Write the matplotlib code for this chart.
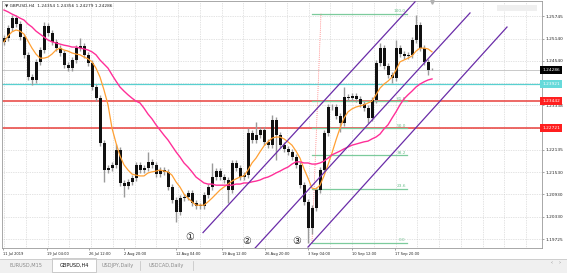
import numpy as np
import matplotlib
matplotlib.use("Agg")
import matplotlib.pyplot as plt
from matplotlib.patches import Rectangle

plt.rcParams['font.family'] = ['DejaVu Sans']

# GBPUSD H4 (each candle here ~ 4 chart bars)
first_open = 1.2505
closes = [1.2515, 1.2542, 1.2569, 1.2553, 1.2518, 1.2470, 1.2410, 1.2402, 1.2451, 1.2483,
          1.2548, 1.2529, 1.2505, 1.2488, 1.2475, 1.2442, 1.2434, 1.2456, 1.2488, 1.2494,
          1.2470, 1.2448, 1.2383, 1.2353, 1.2232, 1.2159, 1.2164, 1.2173, 1.2213, 1.2124,
          1.2116, 1.2127, 1.2137, 1.2173, 1.2159, 1.2164, 1.2181, 1.2173, 1.2148, 1.2159,
          1.2154, 1.2113, 1.2078, 1.2046, 1.2083, 1.2086, 1.2097, 1.2070, 1.2062, 1.2062,
          1.2091, 1.2113, 1.2140, 1.2156, 1.2140, 1.2132, 1.2105, 1.2178, 1.2164, 1.2140,
          1.2145, 1.2259, 1.2240, 1.2253, 1.2267, 1.2235, 1.2226, 1.2294, 1.2253, 1.2226,
          1.2216, 1.2208, 1.2194, 1.2173, 1.2118, 1.2073, 1.2002, 1.2056, 1.2105, 1.2159,
          1.2259, 1.2329, 1.2329, 1.2305, 1.2286, 1.2356, 1.2353, 1.2359, 1.2351, 1.2337,
          1.2326, 1.2299, 1.2348, 1.2448, 1.2488, 1.2440, 1.2416, 1.2407, 1.2488, 1.2472,
          1.2467, 1.2470, 1.2510, 1.2551, 1.2488, 1.2451, 1.2429, 1.24286]
highs = [1.2523, 1.2550, 1.2578, 1.2577, 1.2561, 1.2526, 1.2478, 1.2418, 1.2459, 1.2491,
         1.2559, 1.2556, 1.2537, 1.2513, 1.2496, 1.2483, 1.2450, 1.2464, 1.2496, 1.2515,
         1.2502, 1.2478, 1.2456, 1.2391, 1.2361, 1.2240, 1.2172, 1.2181, 1.2228, 1.2221,
         1.2132, 1.2135, 1.2145, 1.2181, 1.2181, 1.2172, 1.2208, 1.2189, 1.2181, 1.2167,
         1.2167, 1.2162, 1.2121, 1.2086, 1.2091, 1.2094, 1.2105, 1.2105, 1.2078, 1.2070,
         1.2099, 1.2121, 1.2178, 1.2164, 1.2164, 1.2148, 1.2140, 1.2186, 1.2186, 1.2172,
         1.2153, 1.2272, 1.2267, 1.2289, 1.2275, 1.2275, 1.2243, 1.2307, 1.2302, 1.2261,
         1.2234, 1.2224, 1.2216, 1.2202, 1.2181, 1.2126, 1.2081, 1.2064, 1.2113, 1.2167,
         1.2267, 1.2337, 1.2337, 1.2337, 1.2313, 1.2383, 1.2364, 1.2367, 1.2367, 1.2359,
         1.2345, 1.2334, 1.2356, 1.2456, 1.2502, 1.2496, 1.2448, 1.2424, 1.2510, 1.2496,
         1.2480, 1.2478, 1.2518, 1.2578, 1.2559, 1.2496, 1.2459, 1.24356]
lows = [1.2497, 1.2507, 1.2534, 1.2545, 1.2510, 1.2462, 1.2402, 1.2388, 1.2394, 1.2443,
        1.2475, 1.2521, 1.2497, 1.2480, 1.2467, 1.2434, 1.2426, 1.2426, 1.2448, 1.2480,
        1.2462, 1.2440, 1.2375, 1.2345, 1.2224, 1.2127, 1.2151, 1.2156, 1.2165, 1.2116,
        1.2086, 1.2108, 1.2119, 1.2129, 1.2151, 1.2151, 1.2156, 1.2165, 1.2140, 1.2140,
        1.2146, 1.2105, 1.2070, 1.2019, 1.2038, 1.2075, 1.2078, 1.2062, 1.2054, 1.2054,
        1.2054, 1.2083, 1.2105, 1.2132, 1.2132, 1.2124, 1.2070, 1.2097, 1.2156, 1.2132,
        1.2132, 1.2137, 1.2232, 1.2232, 1.2245, 1.2227, 1.2218, 1.2218, 1.2186, 1.2218,
        1.2208, 1.2200, 1.2186, 1.2165, 1.2110, 1.2065, 1.1962, 1.1985, 1.2048, 1.2097,
        1.2151, 1.2251, 1.2321, 1.2297, 1.2262, 1.2278, 1.2345, 1.2345, 1.2343, 1.2329,
        1.2318, 1.2286, 1.2291, 1.2340, 1.2440, 1.2432, 1.2408, 1.2394, 1.2399, 1.2464,
        1.2459, 1.2459, 1.2462, 1.2502, 1.2480, 1.2443, 1.2416, 1.24279]

ma_fast = [1.2505, 1.2521, 1.2532, 1.2537, 1.2534, 1.2526, 1.2507, 1.2488, 1.2472, 1.2461,
           1.2461, 1.2464, 1.2472, 1.2483, 1.2488, 1.2483, 1.2480, 1.2475, 1.2472, 1.2470,
           1.2464, 1.2459, 1.2451, 1.2434, 1.2410, 1.2375, 1.2335, 1.2272, 1.2232, 1.2197,
           1.2173, 1.2159, 1.2148, 1.2145, 1.2143, 1.2143, 1.2151, 1.2154, 1.2156, 1.2159,
           1.2156, 1.2154, 1.2145, 1.2127, 1.2113, 1.2094, 1.2083, 1.2073, 1.2064, 1.2064,
           1.2064, 1.2073, 1.2083, 1.2094, 1.2105, 1.2113, 1.2121, 1.2129, 1.2135, 1.2140,
           1.2143, 1.2159, 1.2178, 1.2191, 1.2208, 1.2224, 1.2235, 1.2245, 1.2248, 1.2248,
           1.2243, 1.2235, 1.2226, 1.2210, 1.2191, 1.2162, 1.2137, 1.2110, 1.2108, 1.2118,
           1.2143, 1.2173, 1.2205, 1.2240, 1.2272, 1.2299, 1.2316, 1.2324, 1.2329, 1.2332,
           1.2335, 1.2340, 1.2345, 1.2362, 1.2380, 1.2391, 1.2399, 1.2410, 1.2429, 1.2451,
           1.2456, 1.2461, 1.2467, 1.2480, 1.2488, 1.2488, 1.2486, 1.2478]
ma_slow = [1.2591, 1.2586, 1.2580, 1.2575, 1.2569, 1.2564, 1.2553, 1.2545, 1.2534, 1.2526,
           1.2518, 1.2510, 1.2505, 1.2502, 1.2499, 1.2496, 1.2494, 1.2491, 1.2491, 1.2488,
           1.2486, 1.2483, 1.2478, 1.2470, 1.2456, 1.2445, 1.2434, 1.2416, 1.2399, 1.2383,
           1.2372, 1.2362, 1.2353, 1.2345, 1.2340, 1.2326, 1.2310, 1.2297, 1.2281, 1.2267,
           1.2253, 1.2240, 1.2224, 1.2208, 1.2194, 1.2178, 1.2167, 1.2154, 1.2140, 1.2132,
           1.2124, 1.2121, 1.2121, 1.2118, 1.2118, 1.2118, 1.2118, 1.2118, 1.2121, 1.2121,
           1.2124, 1.2124, 1.2127, 1.2129, 1.2132, 1.2137, 1.2140, 1.2145, 1.2151, 1.2156,
           1.2162, 1.2167, 1.2175, 1.2181, 1.2181, 1.2178, 1.2178, 1.2175, 1.2175, 1.2178,
           1.2183, 1.2191, 1.2200, 1.2205, 1.2210, 1.2216, 1.2221, 1.2226, 1.2229, 1.2232,
           1.2235, 1.2237, 1.2243, 1.2248, 1.2256, 1.2270, 1.2281, 1.2299, 1.2316, 1.2335,
           1.2351, 1.2362, 1.2372, 1.2383, 1.2391, 1.2397, 1.2402, 1.2405]

# price scale
price_ticks = [1.25745, 1.25140, 1.24540, 1.23939, 1.23338, 1.22736,
               1.22135, 1.21530, 1.20930, 1.20330, 1.19725]
# time scale (candle index)
time_ticks = [-0.25, 10.75, 21.25, 30.0, 43.0, 54.5, 65.25, 76.0, 87.0, 97.75]
time_labels = ['11 Jul 2019', '19 Jul 04:00', '26 Jul 12:00', '2 Aug 20:00', '12 Aug 04:00',
               '19 Aug 12:00', '26 Aug 20:00', '3 Sep 04:00', '10 Sep 12:00', '17 Sep 20:00']

# horizontal levels
bid = 1.24286
cyan_level = 1.23921
red_levels = [1.23442, 1.22721]

# fibonacci retracement
fib_low, fib_high = 1.1962, 1.2581
fib_low_bar, fib_high_bar, fib_end_bar = 77.0, 79.25, 100.75
fib_ratios = [0.0, 0.236, 0.382, 0.5, 0.618, 1.0]
fib_names = ['0.0', '23.6', '38.2', '50.0', '61.8', '100.0']

# parallel channel lines (bar, price) -> (bar, price)
channels = [((49.75, 1.1990), (102.75, 1.2613)),
            ((62.75, 1.1948), (116.5, 1.2583)),
            ((76.0, 1.1951), (125.75, 1.2545))]
marks = ['①', '②', '③']
mark_pos = [(46.5, 1.1978), (60.75, 1.1967), (73.25, 1.1967)]

W, H = 567, 273
fig = plt.figure(figsize=(W / 100, H / 100), dpi=100, facecolor='white')

def fr(x0, y0, x1, y1):
    return [x0 / W, 1 - y1 / H, (x1 - x0) / W, (y1 - y0) / H]

ax = fig.add_axes(fr(2, 1, 541.5, 248))
ax.set_xlim(-0.5, 134.375)
ax.set_ylim(1.19484, 1.26153)
ax.set_facecolor('white')

# grid
for gx in np.arange(0, 135, 5.4375):
    ax.axvline(gx, color='#c8c8c8', lw=0.5, ls=(0, (1, 1.5)), zorder=0)
for gy in price_ticks:
    ax.axhline(gy, color='#c8c8c8', lw=0.5, ls=(0, (1, 1.5)), zorder=0)

# levels
ax.axhline(bid, color='#c0c0c0', lw=0.6, zorder=1)
ax.axhline(cyan_level, color='#58d0d0', lw=0.9, zorder=1)
for lv in red_levels:
    ax.axhline(lv, color='#e8403c', lw=1.1, zorder=1)

# fibonacci
fr_span = fib_high - fib_low
for r, nm in zip(fib_ratios, fib_names):
    lv = fib_low + r * fr_span
    ax.plot([fib_low_bar, fib_end_bar], [lv, lv], color='#7ccb9c', lw=0.9, zorder=2)
    ax.text(fib_end_bar - 0.3, lv + 0.0002, nm, fontsize=3.1, color='#6cbf8c',
            ha='right', va='bottom', zorder=2)
ax.plot([fib_low_bar, fib_high_bar], [fib_low, fib_high], color='#ff7070', lw=0.6,
        ls=(0, (1, 1.5)), zorder=2)

# candles
x = np.arange(len(closes))
opens = np.array([first_open] + closes[:-1])
cl = np.array(closes)
ax.vlines(x, lows, highs, color='#9a9a9a', lw=1.0, zorder=3)
lo_b = np.minimum(opens, cl)
hi_b = np.maximum(opens, cl)
ax.bar(x, np.maximum(hi_b - lo_b, 0.00012), bottom=lo_b, width=0.75,
       color='#111111', zorder=3)

# moving averages
ax.plot(x, ma_fast, color='#ffa033', lw=0.9, zorder=4)
ax.plot(x, ma_slow, color='#ff2f98', lw=1.0, zorder=4)

# channel
for (b0, p0), (b1, p1) in channels:
    ax.plot([b0, b1], [p0, p1], color='#6a2ca8', lw=0.9, zorder=5)
for m, (bx, py) in zip(marks, mark_pos):
    ax.text(bx, py, m, fontsize=7, color='#222222', ha='center', va='center', zorder=6)

# chart shift marker
ax.plot([x[-1]], [1.2612], marker='v', ms=2.5, color='#b0b0b0', zorder=6, clip_on=False)

# axes styling
for s in ['top', 'left', 'bottom', 'right']:
    ax.spines[s].set_color('#9a9a9a')
    ax.spines[s].set_linewidth(0.6)
ax.yaxis.tick_right()
# labels hidden behind the coloured level boxes are left blank
boxed = [cyan_level] + red_levels
tick_text = ['' if min(abs(p - b) for b in boxed) < 0.0003 else f'{p:.5f}'
             for p in price_ticks]
ax.set_yticks(price_ticks, tick_text)
ax.tick_params(axis='y', length=1.5, width=0.5, color='#808080', labelsize=3.1,
               pad=1.2, labelcolor='#222222')
ax.set_xticks(time_ticks, time_labels)
ax.tick_params(axis='x', length=1.5, width=0.5, color='#808080', labelsize=2.6,
               pad=1.5, labelcolor='#222222')
for t in ax.get_xticklabels():
    t.set_ha('left')

# price boxes on scale
tr = ax.get_yaxis_transform()
for price, fc, tc in [(bid, 'black', 'white'), (cyan_level, '#66dada', 'white'),
                      (red_levels[0], '#ff1f1f', 'white'), (red_levels[1], '#ff1f1f', 'white')]:
    ax.text(1.0015, price, f'{price:.5f}', transform=tr, fontsize=3.1, color=tc,
            ha='left', va='center', zorder=10, clip_on=False,
            bbox=dict(boxstyle='square,pad=0.45', fc=fc, ec='none'))

# header text
fig.text(5 / W, 1 - 5.5 / H, '▼ GBPUSD,H4  1.24354 1.24356 1.24279 1.24286',
         fontsize=3.1, color='#222222', ha='left', va='center')
# faint info box top right
fig.add_artist(Rectangle((497 / W, 1 - 11 / H), 40 / W, 6 / H, transform=fig.transFigure,
                         fc='#efefef', ec='none'))

# tab bar
fig.add_artist(Rectangle((0, 0), 1, 14 / H, transform=fig.transFigure,
                         fc='#f0f0f0', ec='none'))
fig.add_artist(plt.Line2D([0, 1], [14 / H, 14 / H], transform=fig.transFigure,
                          color='#c8c8c8', lw=0.6))
fig.add_artist(Rectangle((52 / W, 1 / H), 44 / W, 14 / H, transform=fig.transFigure,
                         fc='white', ec='#b8b8b8', lw=0.5))
tabs = [('EURUSD,M15', 26, '#8a8a8a'), ('GBPUSD,H4', 74, '#111111'),
        ('USDJPY,Daily', 118, '#8a8a8a'), ('USDCAD,Daily', 166, '#8a8a8a')]
for name, cx, col in tabs:
    fig.text(cx / W, 1 - 265 / H, name, fontsize=3.6, color=col, ha='center', va='center')
for sx in [140, 193]:
    fig.add_artist(plt.Line2D([sx / W, sx / W], [3 / H, 12 / H], transform=fig.transFigure,
                              color='#c0c0c0', lw=0.5))
fig.text(552 / W, 1 - 263 / H, '‹', fontsize=3.6, color='#808080', ha='center', va='center')
fig.text(560 / W, 1 - 263 / H, '›', fontsize=3.6, color='#808080', ha='center', va='center')

fig.savefig('out.png', dpi=100, facecolor='white')
